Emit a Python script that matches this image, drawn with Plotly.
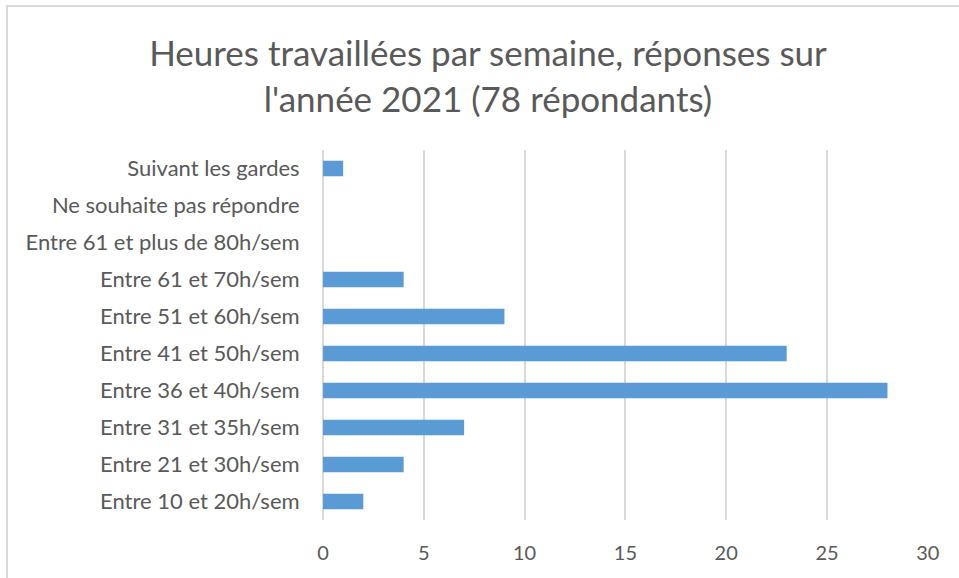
import plotly.graph_objects as go

categories = [
    "Entre 10 et 20h/sem",
    "Entre 21 et 30h/sem",
    "Entre 31 et 35h/sem",
    "Entre 36 et 40h/sem",
    "Entre 41 et 50h/sem",
    "Entre 51 et 60h/sem",
    "Entre 61 et 70h/sem",
    "Entre 61 et plus de 80h/sem",
    "Ne souhaite pas répondre",
    "Suivant les gardes",
]
values = [2, 4, 7, 28, 23, 9, 4, 0, 0, 1]
x_ticks = [0, 5, 10, 15, 20, 25, 30]

W, H = 959, 578
L, R, T, B = 323, 31, 150, 58

fig = go.Figure(go.Bar(
    y=categories, x=values, orientation="h",
    marker=dict(color="#5b9bd5", line=dict(width=0)),
    width=0.42,
))

fig.update_layout(
    width=W, height=H,
    margin=dict(l=L, r=R, t=T, b=B),
    paper_bgcolor="white", plot_bgcolor="white",
    font=dict(family="Lato, 'Open Sans', sans-serif", color="#595959", size=22),
    title=dict(
        text="Heures travaillées par semaine, réponses sur<br>l'année 2021 (78 répondants)",
        x=488 / W, xanchor="center", xref="container",
        y=1 - 66 / H, yanchor="middle", yref="container",
        font=dict(size=35, color="#595959", family="Lato, 'Open Sans', sans-serif"),
    ),
    showlegend=False,
    bargap=0.58,
)

fig.update_xaxes(
    range=[0, 30.01], tickvals=x_ticks, showgrid=True, gridcolor="#d9d9d9", gridwidth=1.5,
    zeroline=True, zerolinecolor="#d9d9d9", zerolinewidth=1.5, showline=False,
    ticks="outside", ticklen=15, tickcolor="rgba(0,0,0,0)",
    tickfont=dict(size=20, color="#595959"),
)
fig.update_yaxes(
    categoryorder="array", categoryarray=categories, showgrid=False, zeroline=False,
    showline=False, ticks="outside", ticklen=18, tickcolor="rgba(0,0,0,0)",
    tickfont=dict(size=22, color="#595959"), range=[-0.5, 9.5],
)

# chart frame
fig.add_shape(type="rect", xref="paper", yref="paper",
              x0=(7 - L) / (W - L - R), x1=(W + 5 - L) / (W - L - R),
              y0=-(B + 5) / (H - T - B), y1=1 + (T - 6) / (H - T - B),
              line=dict(color="#d9d9d9", width=2), layer="below")

fig.write_html("out.html", config={"displayModeBar": False},
               post_script="document.body.style.margin='0';document.body.style.overflow='hidden';")
